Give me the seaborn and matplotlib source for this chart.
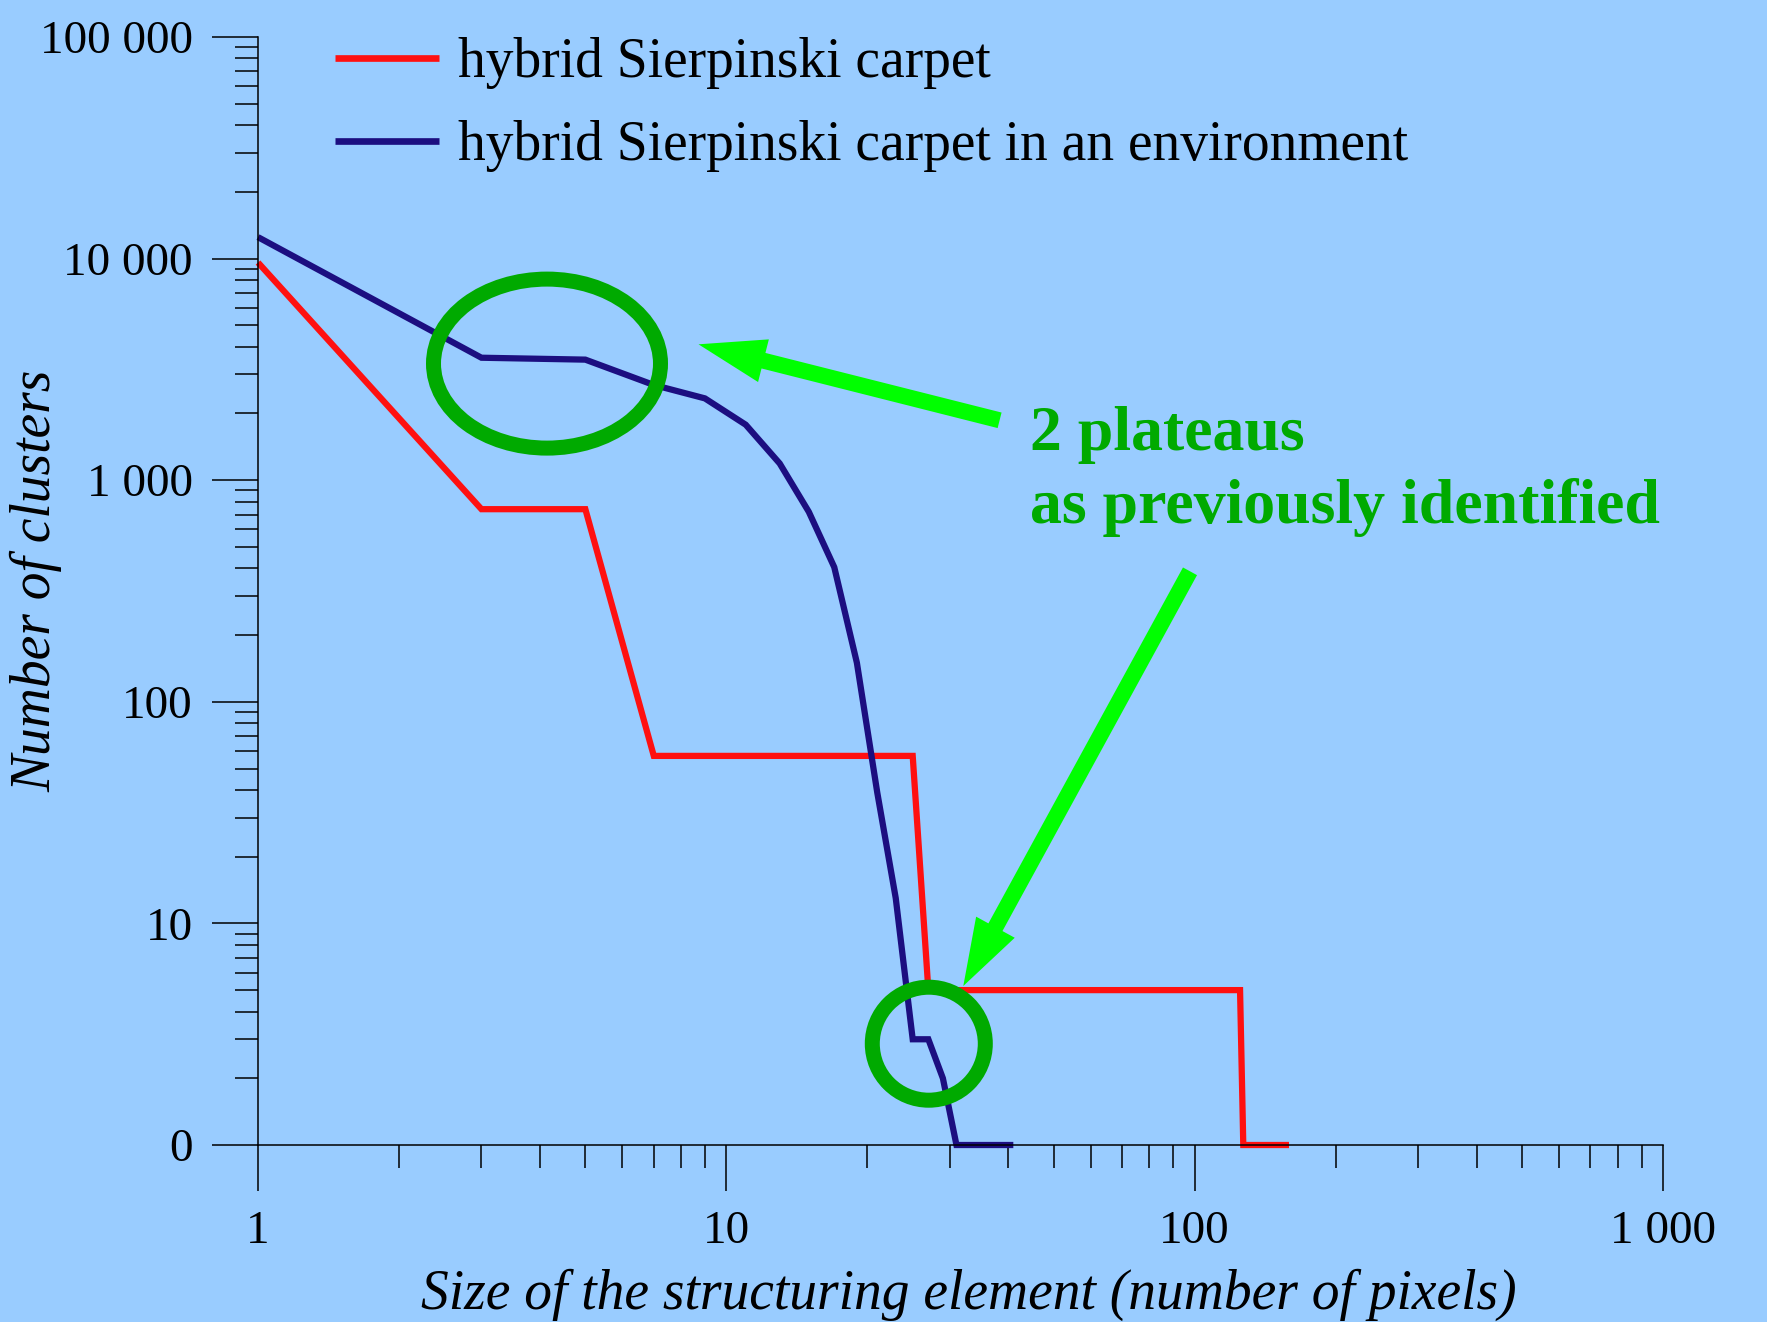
import numpy as np
import pandas as pd
import matplotlib
matplotlib.use("Agg")
import matplotlib.pyplot as plt
import seaborn as sns
from matplotlib.patches import Ellipse, FancyArrow
from matplotlib.transforms import IdentityTransform
from matplotlib.ticker import FixedLocator, FixedFormatter, LogLocator, NullFormatter

# ---- data -------------------------------------------------------------
carpet_label = "hybrid Sierpinski carpet"
env_label = "hybrid Sierpinski carpet in an environment"

carpet_sizes = [1, 3, 5, 7, 25, 27, 125, 127, 159]
carpet_clusters = [9600, 740, 740, 57, 57, 5, 5, 0, 0]

env_sizes = [1, 3, 5, 7, 9, 11, 13, 15, 17, 19, 21, 23, 25, 27, 29, 31, 41]
env_clusters = [12500, 3570, 3500, 2690, 2340, 1780, 1190, 720, 405, 150,
                39, 13, 3, 3, 2, 0, 0]

x_ticks = [1, 10, 100, 1000]
x_tick_labels = ["1", "10", "100", "1 000"]
y_ticks = [1, 10, 100, 1000, 10000, 100000]
y_tick_labels = ["0", "10", "100", "1 000", "10 000", "100 000"]

note_lines = ["2 plateaus", "as previously identified"]

# ---- styling ----------------------------------------------------------
BG = "#99CCFF"
RED = "#FF1010"
NAVY = "#1C0E80"
GREEN_DARK = "#00AA00"
GREEN_BRIGHT = "#00FF00"

sns.set_theme(style="ticks", rc={
    "axes.facecolor": BG,
    "figure.facecolor": BG,
    "savefig.facecolor": BG,
    "axes.edgecolor": "black",
    "axes.linewidth": 1.1,
    "text.color": "black",
    "axes.labelcolor": "black",
    "xtick.color": "black",
    "ytick.color": "black",
})
plt.rcParams["font.family"] = ["Liberation Serif", "DejaVu Serif"]

W, H = 1767, 1322
fig = plt.figure(figsize=(W / 100, H / 100), dpi=100)
# axes box in pixel terms: x from 258 to 1663, y from 37 to 1145 (top-down)
ax = fig.add_axes([258 / W, 1 - 1145 / H, 1405 / W, 1108 / H])

df = pd.concat([
    pd.DataFrame({"size": carpet_sizes, "clusters": carpet_clusters, "series": carpet_label}),
    pd.DataFrame({"size": env_sizes, "clusters": env_clusters, "series": env_label}),
], ignore_index=True)
# zero clusters sit on the bottom of the log axis (labelled "0")
df["shown"] = df["clusters"].clip(lower=1)

sns.lineplot(data=df, x="size", y="shown", hue="series",
             palette={carpet_label: RED, env_label: NAVY},
             estimator=None, sort=True, linewidth=4.5, ax=ax,
             clip_on=False, solid_capstyle="butt", solid_joinstyle="miter")

ax.set_xscale("log")
ax.set_yscale("log")
ax.set_xlim(1, 1000)
ax.set_ylim(1, 100000)

ax.xaxis.set_major_locator(FixedLocator(x_ticks))
ax.xaxis.set_major_formatter(FixedFormatter(x_tick_labels))
ax.yaxis.set_major_locator(FixedLocator(y_ticks))
ax.yaxis.set_major_formatter(FixedFormatter(y_tick_labels))
ax.xaxis.set_minor_locator(LogLocator(base=10, subs=np.arange(2, 10), numticks=20))
ax.yaxis.set_minor_locator(LogLocator(base=10, subs=np.arange(2, 10), numticks=20))
ax.xaxis.set_minor_formatter(NullFormatter())
ax.yaxis.set_minor_formatter(NullFormatter())

ax.tick_params(which="major", direction="out", length=33, width=1.1,
               color="black", labelsize=34, labelcolor="black")
ax.tick_params(which="minor", direction="out", length=16.5, width=1.1, color="black")
ax.tick_params(axis="x", which="major", pad=14)
ax.tick_params(axis="y", which="major", pad=14)

sns.despine(ax=ax)
ax.grid(False)

ax.set_xlabel("Size of the structuring element (number of pixels)",
              fontsize=40, fontstyle="italic", va="baseline", color="black")
ax.xaxis.set_label_coords(0.506, (1145 - 1309) / 1108)
ax.set_ylabel("Number of clusters", fontsize=40, fontstyle="italic", va="center",
              color="black")
ax.yaxis.set_label_coords((36 - 258) / 1405, (1145 - 581) / 1108)

# legend without frame, top left
handles, labels = ax.get_legend_handles_labels()
leg = ax.legend(handles, labels, loc="upper left",
                bbox_to_anchor=(335 / W, 1 - 37 / H), bbox_transform=fig.transFigure,
                frameon=False, fontsize=40, handlelength=1.87, handletextpad=0.335,
                labelspacing=0.56, borderpad=0, borderaxespad=0)
for text in leg.get_texts():
    text.set_color("black")
for line in leg.get_lines():
    line.set_linewidth(4.8)
    line.set_solid_capstyle("butt")

# ---- annotations (pixel positions, origin bottom-left) -----------------
px = IdentityTransform()
fig.add_artist(Ellipse((547, H - 363.6), 227, 169, fill=False,
                       edgecolor=GREEN_DARK, linewidth=10.8, transform=px, zorder=5))
fig.add_artist(Ellipse((928.8, H - 1043.7), 113, 113, fill=False,
                       edgecolor=GREEN_DARK, linewidth=10.8, transform=px, zorder=5))

for (tx, ty), (hx, hy) in [((999.6, 420.3), (698.5, 344.3)),
                           ((1190.0, 571.3), (963.3, 986.0))]:
    fig.add_artist(FancyArrow(tx, H - ty, hx - tx, -(hy - ty), width=16,
                              head_width=44, head_length=67,
                              length_includes_head=True, color=GREEN_BRIGHT,
                              linewidth=0, transform=px, zorder=6))

for text, base in zip(note_lines, [450, 523]):
    fig.text(1030 / W, 1 - base / H, text, fontsize=46, fontweight="bold",
             color=GREEN_DARK, ha="left", va="baseline")

fig.savefig("out.png", dpi=100)
